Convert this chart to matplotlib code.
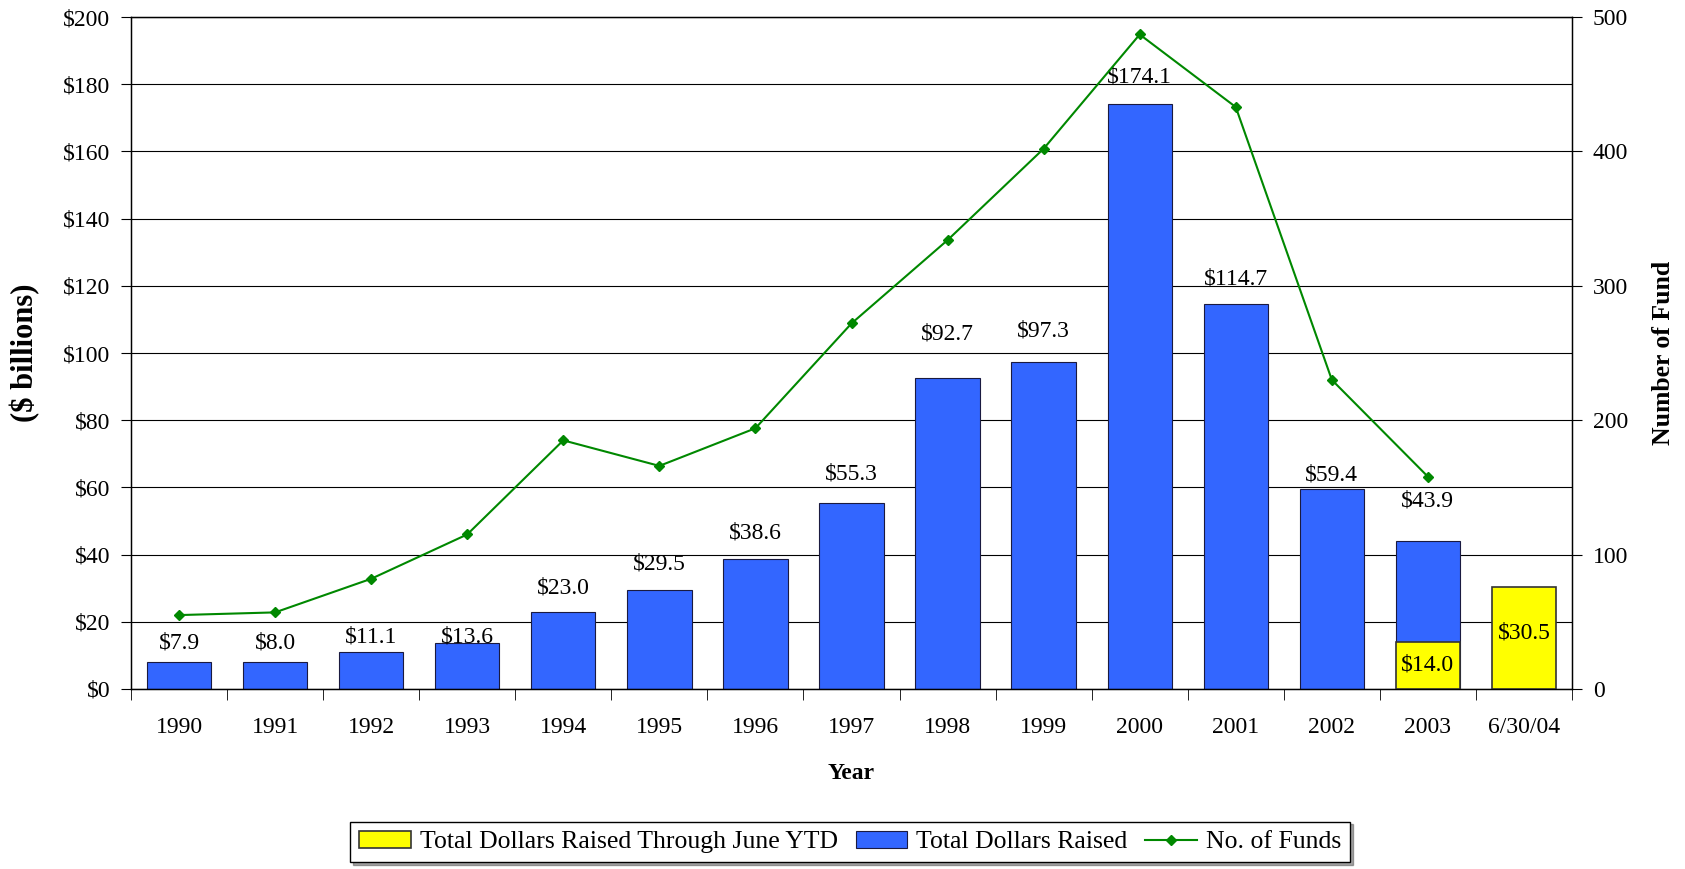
import matplotlib
matplotlib.use("Agg")
import matplotlib.pyplot as plt
import numpy as np

plt.rcParams['font.family'] = ['Liberation Serif', 'DejaVu Serif']

categories = ["1990", "1991", "1992", "1993", "1994", "1995", "1996", "1997",
              "1998", "1999", "2000", "2001", "2002", "2003", "6/30/04"]
total_raised = [7.9, 8.0, 11.1, 13.6, 23.0, 29.5, 38.6, 55.3, 92.7, 97.3,
                174.1, 114.7, 59.4, 43.9, None]
ytd_raised = [None] * 13 + [14.0, 30.5]
num_funds = [55, 57, 82, 115, 185, 166, 194, 272, 334, 402, 487, 433, 230, 158, None]

# label placement offsets (data units above bar top), layout only
label_dy = [5.9, 5.8, 4.3, 1.8, 7.1, 7.6, 7.8, 8.7, 12.9, 9.3, 8.0, 7.2, 4.3, 12.1]

FS = 17

fig = plt.figure(figsize=(16.85, 8.69), dpi=100)
ax = fig.add_axes([131/1685, 1 - 689/869, (1572-131)/1685, (689-17)/869])
x = np.arange(len(categories))
w = 0.67

bx = [i for i, v in enumerate(total_raised) if v is not None]
bv = [v for v in total_raised if v is not None]
blue = ax.bar(bx, bv, width=w, color="#3366FF", edgecolor="#1a1a40", linewidth=0.8,
              label="Total Dollars Raised", zorder=2)
yx = [i for i, v in enumerate(ytd_raised) if v is not None]
yv = [v for v in ytd_raised if v is not None]
yel = ax.bar(yx, yv, width=w, color="#FFFF00", edgecolor="#333333", linewidth=1.2,
             label="Total Dollars Raised Through June YTD", zorder=3)

for i, v in zip(bx, bv):
    ax.text(i, v + label_dy[i], f"${v:.1f}", ha="center", va="center", fontsize=FS, zorder=4)
for i, v in zip(yx, yv):
    yy = v * 0.55 if v > 20 else v / 2
    ax.text(i, yy, f"${v:.1f}", ha="center", va="center", fontsize=FS, zorder=4)

ax.set_ylim(0, 200)
ax.set_xlim(-0.5, len(categories) - 0.5)
ax.set_yticks(np.arange(0, 201, 20))
ax.set_yticklabels([f"${t}" for t in range(0, 201, 20)], fontsize=FS)
ax.yaxis.grid(True, color="black", linewidth=0.8)
ax.set_axisbelow(True)
ax.set_xticks(x)
ax.set_xticklabels(categories, fontsize=FS)
ax.tick_params(axis="x", which="major", length=0, pad=20)
ax.set_xticks(np.arange(-0.5, len(categories), 1), minor=True)
ax.tick_params(axis="x", which="minor", length=8, direction="out", color="black")
ax.tick_params(axis="y", length=7, direction="out", pad=8)
ax.set_xlabel("Year", fontsize=17, fontweight="bold", labelpad=18)
ax.set_ylabel("($ billions)", fontsize=22, fontweight="bold", labelpad=16)
for s in ax.spines.values():
    s.set_color("black")
    s.set_linewidth(1.0)

ax2 = ax.twinx()
lx = [i for i, v in enumerate(num_funds) if v is not None]
lv = [v for v in num_funds if v is not None]
line, = ax2.plot(lx, lv, color="#008800", linewidth=1.5, marker="D", markersize=5,
                 label="No. of Funds", zorder=5)
ax2.set_ylim(0, 500)
ax2.set_yticks(np.arange(0, 501, 100))
ax2.set_yticklabels([str(t) for t in range(0, 501, 100)], fontsize=FS)
ax2.tick_params(axis="y", length=7, direction="out", pad=8)
ax2.set_ylabel("Number of Fund", fontsize=18.5, fontweight="bold", labelpad=17)

leg = fig.legend(handles=[yel, blue, line],
                 labels=["Total Dollars Raised Through June YTD", "Total Dollars Raised", "No. of Funds"],
                 loc="center", bbox_to_anchor=(850/1685, 1 - 842/869), ncol=3,
                 fontsize=18.5, frameon=True, fancybox=False, shadow=True,
                 edgecolor="black", handlelength=2.0, handletextpad=0.35, columnspacing=0.7,
                 borderpad=0.35)
leg.get_frame().set_linewidth(1.0)

fig.savefig("out.png", dpi=100)
